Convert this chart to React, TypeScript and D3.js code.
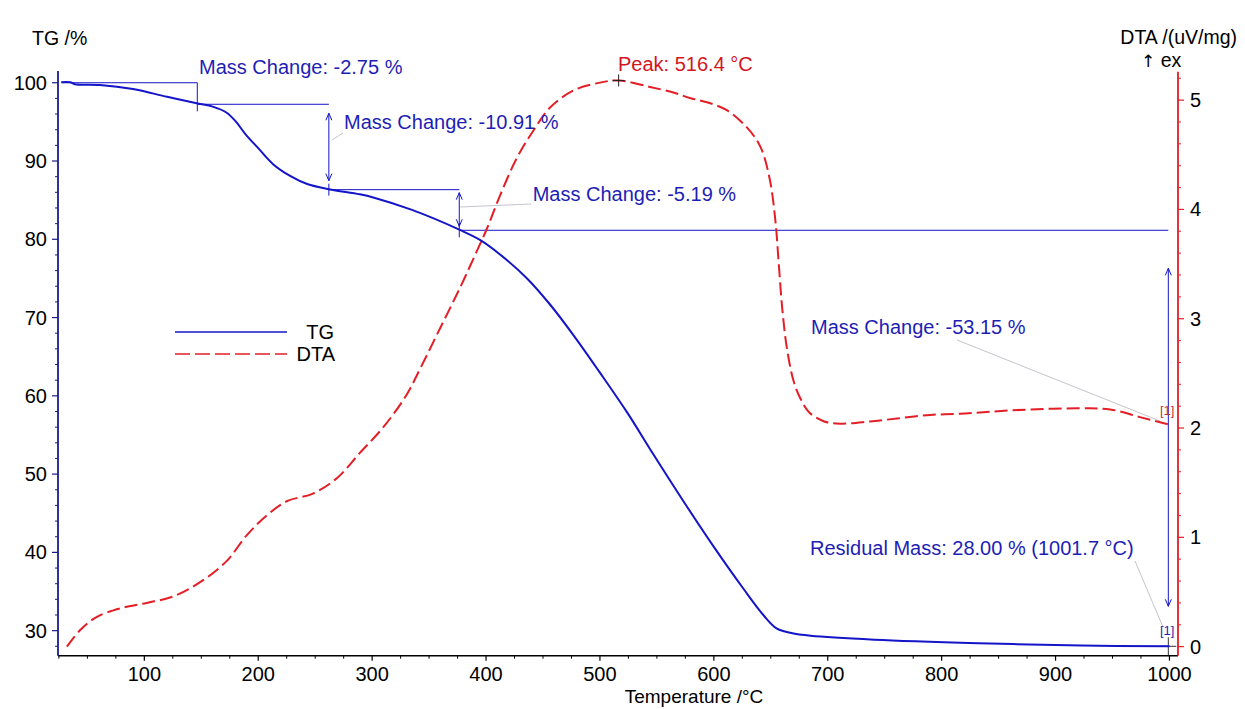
import React from "react";
import * as d3 from "d3";

// ---- data ----
const tgTemp = [27, 35, 39, 61, 90, 120, 147, 160, 172, 180, 190, 199, 213, 228, 243, 262, 289, 301, 335, 377, 395, 412, 436, 456, 477, 500, 524, 547, 573, 600, 626, 644, 655, 668, 685, 741, 832, 923, 1000];
const tgMass = [100.05, 100.05, 99.82, 99.72, 99.2, 98.2, 97.35, 96.95, 96.2, 95.1, 93.2, 91.8, 89.6, 88.1, 87.06, 86.4, 85.75, 85.35, 83.75, 81.2, 79.9, 78.1, 75.0, 71.7, 67.7, 62.96, 57.85, 52.5, 46.6, 40.7, 35.35, 31.9, 30.3, 29.7, 29.35, 28.85, 28.4, 28.1, 28.0];

const dtaTemp = [32, 43.5, 58, 79, 102, 125.5, 149, 172, 190, 207.5, 225, 248, 269, 289, 310, 330, 342, 360, 377, 392, 401, 412, 427, 441.5, 456, 477, 500, 516.4, 544, 564.5, 579, 594, 611, 629, 641, 649, 654, 657, 660, 664, 670, 676, 684, 697, 711, 737, 763, 790, 816, 843, 878, 922, 948, 974, 1000];
const dtaValue = [0.0, 0.15, 0.27, 0.35, 0.40, 0.46, 0.59, 0.78, 1.02, 1.20, 1.33, 1.40, 1.54, 1.77, 2.01, 2.30, 2.54, 2.92, 3.28, 3.62, 3.83, 4.12, 4.47, 4.72, 4.93, 5.09, 5.16, 5.18, 5.12, 5.07, 5.02, 4.98, 4.91, 4.75, 4.57, 4.28, 3.90, 3.50, 3.10, 2.74, 2.43, 2.27, 2.14, 2.06, 2.04, 2.06, 2.09, 2.12, 2.13, 2.15, 2.17, 2.18, 2.17, 2.10, 2.03];

const xTicks = [100, 200, 300, 400, 500, 600, 700, 800, 900, 1000];
const tgTicks = [30, 40, 50, 60, 70, 80, 90, 100];
const dtaTicks = [0, 1, 2, 3, 4, 5];

const stepTemps = [28, 146.5, 262, 376.5, 999];
const stepLevels = [100, 97.25, 86.34, 81.15, 28.0];
const peakTemp = 516.4;
const peakValue = 5.18;

const FONT = "'Liberation Sans', Arial, Helvetica, sans-serif";
const BLUE = "#1414c8";
const TEXTBLUE = "#1e1eb4";
const RED = "#e41e26";
const NAVY = "#1c1c8c";

export default function App() {
  const x = d3.scaleLinear().domain([24.2, 1007.5]).range([58, 1178]);
  const yT = d3.scaleLinear().domain([26.8, 101.5]).range([655.7, 71]);
  const yD = d3.scaleLinear().domain([-0.083, 5.26]).range([655.7, 71.7]);

  const tgLine = d3
    .line<number>()
    .x((_, i) => x(tgTemp[i]))
    .y((d) => yT(d))
    .curve(d3.curveCatmullRom.alpha(0.5));
  const dtaLine = d3
    .line<number>()
    .x((_, i) => x(dtaTemp[i]))
    .y((d) => yD(d))
    .curve(d3.curveCatmullRom.alpha(0.5));

  const xMinor = d3.range(25, 1001, 25).filter((v) => v % 100 !== 0);
  const tgMinor = d3.range(28, 101, 2).filter((v) => v % 10 !== 0);
  const dtaMinor = d3.range(0.2, 5.21, 0.2).filter((v) => Math.abs(v - Math.round(v)) > 0.01);

  const axisBottom = 655.7;
  const leftX = 58;
  const rightX = 1178;

  const sx = stepTemps.map((t) => x(t));
  const sy = stepLevels.map((v) => yT(v));

  const arrow = (xp: number, y1: number, y2: number, color: string, key: string) => (
    <g key={key} stroke={color} strokeWidth={1} fill="none">
      <line x1={xp} y1={y1} x2={xp} y2={y2} />
      <polyline points={`${xp - 3},${y1 + 7} ${xp},${y1} ${xp + 3},${y1 + 7}`} />
      <polyline points={`${xp - 3},${y2 - 7} ${xp},${y2} ${xp + 3},${y2 - 7}`} />
    </g>
  );

  const px = x(peakTemp);
  const py = yD(peakValue);

  return (
    <svg
      width={1245}
      height={709}
      style={{ position: "absolute", left: 0, top: 0, background: "#fff" }}
      fontFamily={FONT}
    >
      <rect x={0} y={0} width={1245} height={709} fill="#fff" />

      {/* axis titles */}
      <text x={32} y={45} fontSize={19.5} fill="#000">TG /%</text>
      <text x={1237} y={44} fontSize={19.5} fill="#000" textAnchor="end">DTA /(uV/mg)</text>
      <text x={1141} y={67} fontSize={19.5} fill="#000">
        <tspan fontFamily="'DejaVu Sans', sans-serif" fontSize={17}>↑</tspan>
        <tspan> ex</tspan>
      </text>
      <text x={694} y={703} fontSize={19} fill="#000" textAnchor="middle">Temperature /°C</text>

      {/* bottom axis */}
      <line x1={leftX} y1={axisBottom} x2={rightX} y2={axisBottom} stroke="#000" strokeWidth={1.5} />
      {xTicks.map((t) => (
        <g key={"xt" + t}>
          <line x1={x(t)} y1={axisBottom} x2={x(t)} y2={axisBottom + 5} stroke="#000" strokeWidth={1.2} />
          <text x={x(t)} y={681} fontSize={20} textAnchor="middle" fill="#000">{t}</text>
        </g>
      ))}
      {xMinor.map((t) => (
        <line key={"xm" + t} x1={x(t)} y1={axisBottom} x2={x(t)} y2={axisBottom + 3} stroke="#000" strokeWidth={1} />
      ))}

      {/* left axis */}
      <line x1={leftX} y1={71} x2={leftX} y2={axisBottom} stroke={NAVY} strokeWidth={1.8} />
      {tgTicks.map((v) => (
        <g key={"yt" + v}>
          <line x1={leftX - 6} y1={yT(v)} x2={leftX} y2={yT(v)} stroke={NAVY} strokeWidth={1.2} />
          <text x={47} y={yT(v) + 7} fontSize={20} textAnchor="end" fill="#000">{v}</text>
        </g>
      ))}
      {tgMinor.map((v) => (
        <line key={"ym" + v} x1={leftX - 3} y1={yT(v)} x2={leftX} y2={yT(v)} stroke={NAVY} strokeWidth={1} />
      ))}

      {/* right axis */}
      <line x1={rightX} y1={71.7} x2={rightX} y2={axisBottom} stroke={RED} strokeWidth={1.8} />
      {dtaTicks.map((v) => (
        <g key={"dt" + v}>
          <line x1={rightX} y1={yD(v)} x2={rightX + 6} y2={yD(v)} stroke={RED} strokeWidth={1.2} />
          <text x={1190} y={yD(v) + 7} fontSize={20} fill="#000">{v}</text>
        </g>
      ))}
      {dtaMinor.map((v) => (
        <line key={"dm" + v.toFixed(1)} x1={rightX} y1={yD(v)} x2={rightX + 3} y2={yD(v)} stroke={RED} strokeWidth={1} />
      ))}

      {/* step annotation lines */}
      <g stroke={BLUE} strokeWidth={1} fill="none">
        <line x1={sx[0]} y1={sy[0]} x2={sx[1]} y2={sy[0]} />
        <line x1={sx[1]} y1={sy[0]} x2={sx[1]} y2={sy[1] + 7} />
        <line x1={sx[1]} y1={sy[1]} x2={sx[2]} y2={sy[1]} />
        <line x1={sx[2]} y1={sy[2] - 6} x2={sx[2]} y2={sy[2] + 6} />
        <line x1={sx[2]} y1={sy[2]} x2={sx[3]} y2={sy[2]} />
        <line x1={sx[3]} y1={sy[3] - 7} x2={sx[3]} y2={sy[3] + 7} />
        <line x1={sx[3]} y1={sy[3]} x2={sx[4]} y2={sy[3]} />
      </g>
      {arrow(sx[2], sy[1] + 9, sy[2] - 9, BLUE, "a1")}
      {arrow(sx[3], sy[2] + 3, sy[3] - 4, BLUE, "a2")}
      {arrow(sx[4], sy[3] + 38, sy[4] - 40, BLUE, "a3")}
      <g stroke="#333" strokeWidth={1}>
        <line x1={sx[4]} y1={sy[4] - 9} x2={sx[4]} y2={sy[4] + 9} />
        <line x1={sx[4] - 8} y1={sy[4]} x2={sx[4] + 8} y2={sy[4]} />
      </g>

      {/* leader lines */}
      <g stroke="#c4c4cc" strokeWidth={1}>
        <line x1={sx[2] + 3} y1={140} x2={343} y2={133} />
        <line x1={sx[3] + 1} y1={207} x2={531} y2={204} />
        <line x1={957} y1={340} x2={1160} y2={421} />
        <line x1={1135} y1={561} x2={1163} y2={627} />
      </g>

      {/* curves */}
      <path d={dtaLine(dtaValue) || ""} fill="none" stroke={RED} strokeWidth={2} strokeDasharray="13,5" />
      <path d={tgLine(tgMass) || ""} fill="none" stroke={BLUE} strokeWidth={2} />

      {/* peak */}
      <g stroke="#222" strokeWidth={1}>
        <line x1={px - 6} y1={py} x2={px + 6} y2={py} />
        <line x1={px} y1={py - 6} x2={px} y2={py + 6} />
      </g>
      <text x={618} y={70.5} fontSize={20} fill="#d4141e">Peak: 516.4 °C</text>

      {/* annotation texts */}
      <g fontSize={20} fill={TEXTBLUE}>
        <text x={199} y={74}>Mass Change: -2.75 %</text>
        <text x={344} y={129}>Mass Change: -10.91 %</text>
        <text x={532.7} y={200.5}>Mass Change: -5.19 %</text>
        <text x={811} y={334}>Mass Change: -53.15 %</text>
        <text x={810} y={555}>Residual Mass: 28.00 % (1001.7 °C)</text>
      </g>
      <text x={1160} y={415} fontSize={13} fill="#c0303a">[1]</text>
      <text x={1160} y={635} fontSize={13} fill={TEXTBLUE}>[1]</text>

      {/* legend */}
      <line x1={175} y1={332} x2={287} y2={332} stroke={BLUE} strokeWidth={1.5} />
      <text x={334} y={339} fontSize={20} textAnchor="end" fill="#000">TG</text>
      <line x1={175} y1={354} x2={287} y2={354} stroke={RED} strokeWidth={1.5} strokeDasharray="15,5" />
      <text x={335} y={361} fontSize={20} textAnchor="end" fill="#000">DTA</text>
    </svg>
  );
}
